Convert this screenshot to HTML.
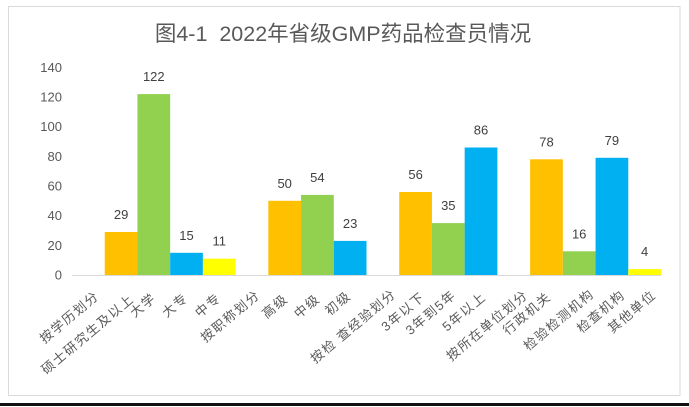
<!DOCTYPE html>
<html>
<head>
<meta charset="utf-8">
<style>
  html,body{margin:0;padding:0;background:#fff;}
  svg{display:block;}
  text{font-family:"Liberation Sans","Noto Sans CJK SC",sans-serif;}
  .yt{font-size:13px;fill:#595959;text-anchor:end;dominant-baseline:central;}
  .dl{font-size:13px;fill:#404040;text-anchor:middle;dominant-baseline:central;}
  .xl{font-size:13px;fill:#595959;text-anchor:end;dominant-baseline:central;letter-spacing:1.5px;}
</style>
</head>
<body>
<svg width="689" height="407" viewBox="0 0 689 407" xmlns="http://www.w3.org/2000/svg">
  <rect x="0" y="0" width="689" height="407" fill="#fff"/>
  <!-- chart border -->
  <rect x="8.5" y="6.5" width="671.5" height="389" fill="#fff" stroke="#d9d9d9" stroke-width="1"/>
  <!-- bottom black line -->
  <rect x="0" y="403" width="689" height="3" fill="#111"/>

  <!-- title -->
  <text x="343" y="41" font-size="21.5" fill="#595959" text-anchor="middle">图4-1 &#160;2022年省级GMP药品检查员情况</text>

  <!-- y tick labels -->
  <text class="yt" x="62" y="275">0</text>
  <text class="yt" x="62" y="245.3">20</text>
  <text class="yt" x="62" y="215.7">40</text>
  <text class="yt" x="62" y="186">60</text>
  <text class="yt" x="62" y="156.4">80</text>
  <text class="yt" x="62" y="126.7">100</text>
  <text class="yt" x="62" y="97">120</text>
  <text class="yt" x="62" y="67.4">140</text>

  <!-- bars -->
  <rect x="104.72" y="232.0" width="32.72" height="43.0" fill="#FFC000"/>
  <rect x="137.44" y="94.1" width="32.73" height="180.9" fill="#92D050"/>
  <rect x="170.17" y="252.8" width="32.72" height="22.2" fill="#00B0F0"/>
  <rect x="202.89" y="258.7" width="32.72" height="16.3" fill="#FFFF00"/>

  <rect x="268.33" y="200.8" width="32.73" height="74.2" fill="#FFC000"/>
  <rect x="301.06" y="194.9" width="32.72" height="80.1" fill="#92D050"/>
  <rect x="333.78" y="240.9" width="32.72" height="34.1" fill="#00B0F0"/>

  <rect x="399.22" y="192.0" width="32.72" height="83.0" fill="#FFC000"/>
  <rect x="431.94" y="223.1" width="32.73" height="51.9" fill="#92D050"/>
  <rect x="464.67" y="147.5" width="32.72" height="127.5" fill="#00B0F0"/>

  <rect x="530.11" y="159.3" width="32.72" height="115.7" fill="#FFC000"/>
  <rect x="562.83" y="251.3" width="32.73" height="23.7" fill="#92D050"/>
  <rect x="595.56" y="157.8" width="32.72" height="117.2" fill="#00B0F0"/>
  <rect x="628.28" y="269.1" width="32.72" height="5.9" fill="#FFFF00"/>

  <!-- axis line -->
  <line x1="72" y1="275.5" x2="661" y2="275.5" stroke="#d9d9d9" stroke-width="1"/>

  <!-- data labels -->
  <text class="dl" x="121.1" y="214.5">29</text>
  <text class="dl" x="153.8" y="76.6">122</text>
  <text class="dl" x="186.5" y="235.3">15</text>
  <text class="dl" x="219.3" y="241.2">11</text>
  <text class="dl" x="284.7" y="183.3">50</text>
  <text class="dl" x="317.4" y="177.4">54</text>
  <text class="dl" x="350.1" y="223.4">23</text>
  <text class="dl" x="415.6" y="174.5">56</text>
  <text class="dl" x="448.3" y="205.6">35</text>
  <text class="dl" x="481.0" y="130.0">86</text>
  <text class="dl" x="546.5" y="141.8">78</text>
  <text class="dl" x="579.2" y="233.8">16</text>
  <text class="dl" x="611.9" y="140.3">79</text>
  <text class="dl" x="644.6" y="251.6">4</text>

  <!-- x category labels (rotated) -->
  <g transform="translate(91,299) rotate(-40)"><text class="xl" x="8" y="0">按学历划分</text></g>
  <g transform="translate(126,302) rotate(-40)"><text class="xl" x="8" y="0">硕士研究生及以上</text></g>
  <g transform="translate(148,301) rotate(-40)"><text class="xl" x="8" y="0">大学</text></g>
  <g transform="translate(180,301) rotate(-40)"><text class="xl" x="8" y="0">大专</text></g>
  <g transform="translate(213,301) rotate(-40)"><text class="xl" x="8" y="0">中专</text></g>
  <g transform="translate(252,298) rotate(-40)"><text class="xl" x="8" y="0">按职称划分</text></g>
  <g transform="translate(280,302) rotate(-40)"><text class="xl" x="8" y="0">高级</text></g>
  <g transform="translate(312,302) rotate(-40)"><text class="xl" x="8" y="0">中级</text></g>
  <g transform="translate(343,299) rotate(-40)"><text class="xl" x="8" y="0">初级</text></g>
  <g transform="translate(388,297) rotate(-40)"><text class="xl" x="8" y="0" xml:space="preserve">按检 查经验划分</text></g>
  <g transform="translate(417,300) rotate(-40)"><text class="xl" x="8" y="0">3年以下</text></g>
  <g transform="translate(448,298) rotate(-40)"><text class="xl" x="8" y="0">3年到5年</text></g>
  <g transform="translate(478,300) rotate(-40)"><text class="xl" x="8" y="0">5年以上</text></g>
  <g transform="translate(520,298) rotate(-40)"><text class="xl" x="8" y="0">按所在单位划分</text></g>
  <g transform="translate(543,300) rotate(-40)"><text class="xl" x="8" y="0">行政机关</text></g>
  <g transform="translate(586,297) rotate(-40)"><text class="xl" x="8" y="0">检验检测机构</text></g>
  <g transform="translate(617,298) rotate(-40)"><text class="xl" x="8" y="0">检查机构</text></g>
  <g transform="translate(648,298) rotate(-40)"><text class="xl" x="8" y="0">其他单位</text></g>
</svg>
</body>
</html>
